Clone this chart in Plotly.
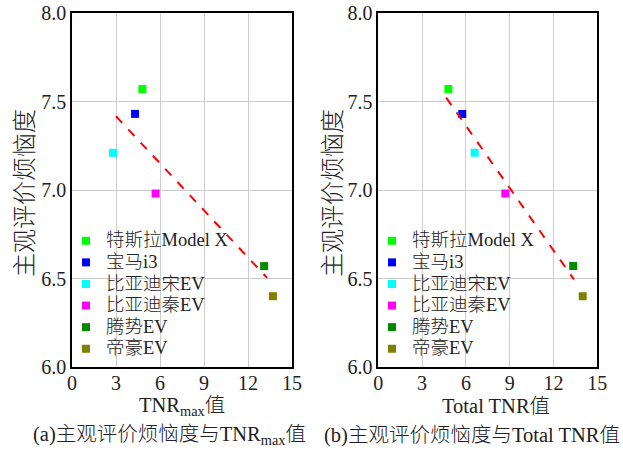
import numpy as np
import plotly.graph_objects as go

# ---------------- data ----------------
cars = ["特斯拉Model X", "宝马i3", "比亚迪宋EV", "比亚迪秦EV", "腾势EV", "帝豪EV"]
colors = ["#00ff00", "#0000ff", "#00ffff", "#ff00ff", "#008a00", "#7f7f00"]
annoyance = [7.57, 7.43, 7.21, 6.98, 6.57, 6.40]
tnr_max = [4.8, 4.3, 2.8, 5.7, 13.1, 13.7]
total_tnr = [4.8, 5.75, 6.6, 8.7, 13.35, 14.0]
fit_range_a = [3.0, 13.3]
fit_range_b = [4.65, 13.4]
x_ticks = [0, 3, 6, 9, 12, 15]
y_ticks = [6.0, 6.5, 7.0, 7.5, 8.0]

W, H = 623, 455
SERIF = "Liberation Serif, Times New Roman, Noto Sans CJK SC"

fig = go.Figure()

def add_panel(xvals, fit_range, xa, ya, legend_name):
    for name, c, xv, yv in zip(cars, colors, xvals, annoyance):
        fig.add_trace(go.Scatter(
            x=[xv], y=[yv], mode="markers",
            name=f'<span style="font-size:18.5px">{name}</span>',
            marker=dict(symbol="square", size=8, color=c),
            xaxis=xa, yaxis=ya, legend=legend_name, showlegend=True))
    k, b = np.polyfit(xvals, annoyance, 1)
    fx = np.array(fit_range)
    fig.add_trace(go.Scatter(
        x=fx, y=k * fx + b, mode="lines",
        line=dict(color="#ff0000", width=2, dash="dash"),
        xaxis=xa, yaxis=ya, showlegend=False, hoverinfo="skip"))

add_panel(tnr_max, fit_range_a, "x", "y", "legend")
add_panel(total_tnr, fit_range_b, "x2", "y2", "legend2")

px = lambda v: v / W
py = lambda v: 1 - v / H

dom_y = [py(367), py(13)]
axis_common = dict(showgrid=True, gridcolor="#cccccc", gridwidth=1,
                   showline=True, linecolor="black", linewidth=1.5, mirror=True,
                   ticks="", zeroline=False, automargin=False,
                   tickfont=dict(family=SERIF, size=20, color="#222"))

legend_common = dict(xanchor="left", yanchor="bottom", bgcolor="rgba(0,0,0,0)",
                     font=dict(family=SERIF, size=14.3, color="#222", weight=300),
                     itemwidth=30, tracegroupgap=0)

fig.update_layout(
    width=W, height=H,
    margin=dict(l=0, r=0, t=0, b=0, autoexpand=False),
    paper_bgcolor="white", plot_bgcolor="white",
    xaxis=dict(domain=[px(72), px(292)], range=[0, 15], tickvals=x_ticks,
               ticktext=[str(t) for t in x_ticks], anchor="y", ticklabelstandoff=-3,
               **axis_common),
    yaxis=dict(domain=dom_y, range=[6, 8], tickvals=y_ticks,
               ticktext=[f"{t:.1f}" for t in y_ticks], anchor="x", **axis_common),
    xaxis2=dict(domain=[px(378.3), px(597.3)], range=[0, 15], tickvals=x_ticks,
                ticktext=[str(t) for t in x_ticks], anchor="y2", ticklabelstandoff=-3,
                **axis_common),
    yaxis2=dict(domain=dom_y, range=[6, 8], tickvals=y_ticks,
                ticktext=[f"{t:.1f}" for t in y_ticks], anchor="x2", **axis_common),
    legend=dict(x=px(66), y=py(365), **legend_common),
    legend2=dict(x=px(372), y=py(365), **legend_common),
    showlegend=True,
)

ann_font = dict(family=SERIF, color="#222", weight=300)
annotations = [
    dict(text="主观评价烦恼度", x=px(25), y=py(193), textangle=-90,
         font=dict(size=24, **ann_font)),
    dict(text="主观评价烦恼度", x=px(333), y=py(193), textangle=-90,
         font=dict(size=24, **ann_font)),
    dict(text="TNR<sub>max</sub>值", x=px(182), y=py(406),
         font=dict(size=20.5, **ann_font)),
    dict(text="Total TNR值", x=px(496), y=py(406),
         font=dict(size=20.5, **ann_font)),
    dict(text="(a)主观评价烦恼度与TNR<sub>max</sub>值", x=px(169), y=py(435),
         font=dict(size=20.5, **ann_font)),
    dict(text="(b)主观评价烦恼度与Total TNR值", x=px(472), y=py(435),
         font=dict(size=20.5, **ann_font)),
]
for a in annotations:
    a.update(xref="paper", yref="paper", showarrow=False, xanchor="center", yanchor="middle")
fig.update_layout(annotations=annotations)

fig.write_html("out.html")
